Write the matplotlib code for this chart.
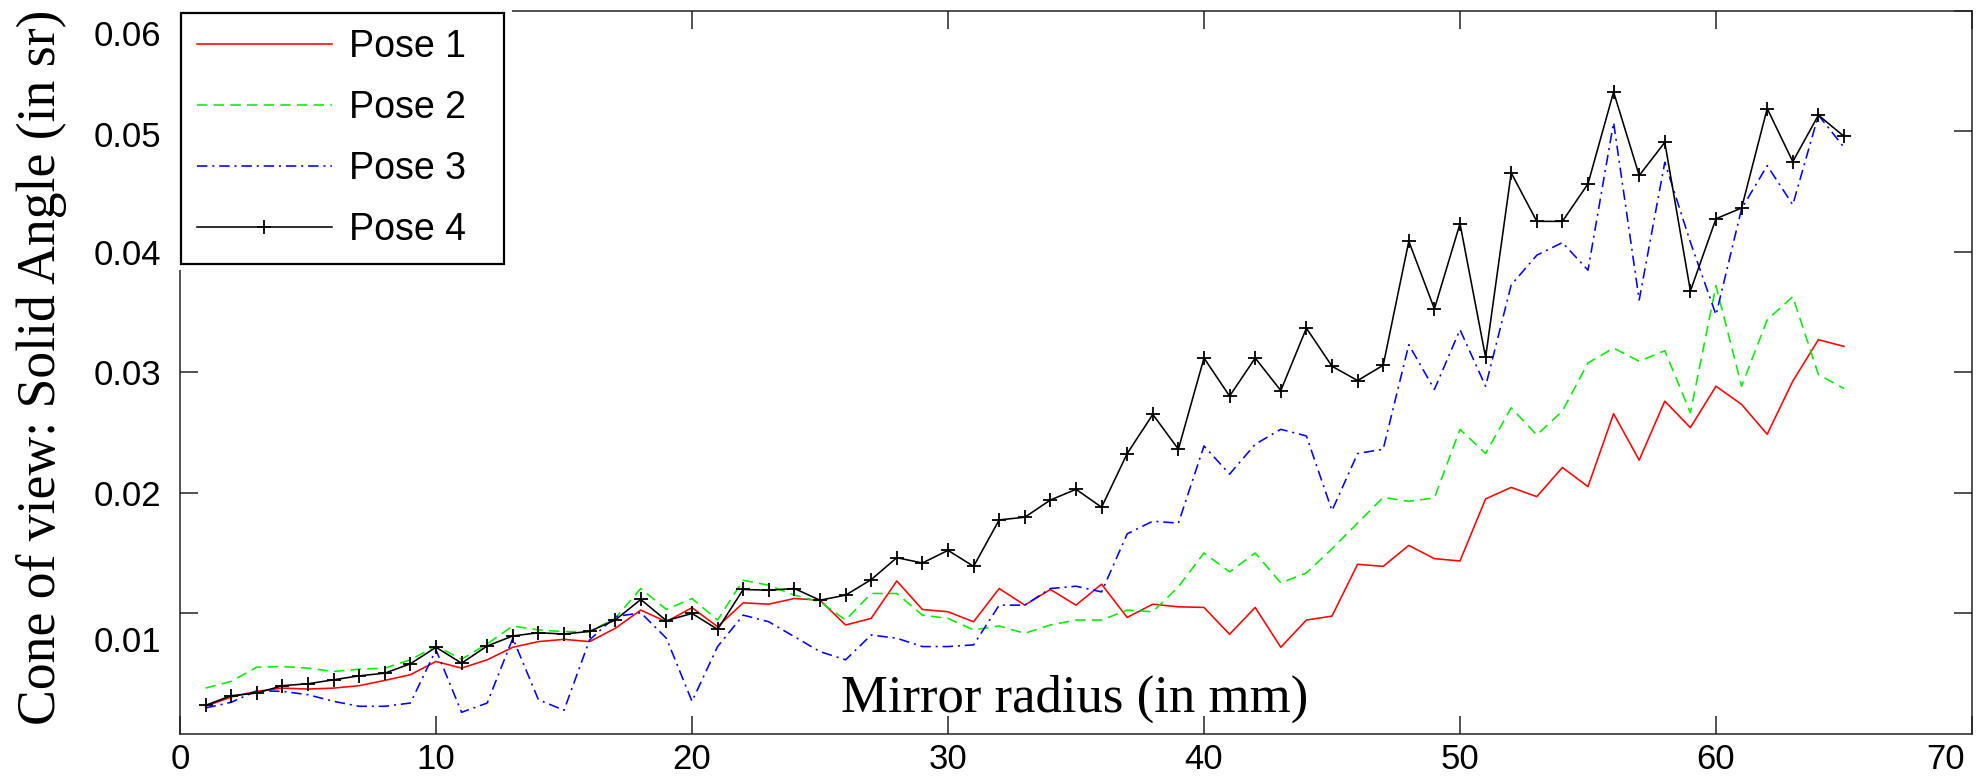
import matplotlib
matplotlib.use("Agg")
import matplotlib.pyplot as plt
import matplotlib.transforms as mtransforms
from matplotlib.patches import Rectangle

# ---------------- data ----------------
mirror_radius = list(range(1, 66))

pose1 = [0.00226, 0.00303, 0.00350, 0.00377, 0.00369, 0.00377, 0.00397, 0.00441, 0.00488, 0.00598,
         0.00543, 0.00612, 0.00716, 0.00763, 0.00782, 0.00763, 0.00873, 0.01025, 0.00928, 0.01045,
         0.00887, 0.01085, 0.01074, 0.01121, 0.01107, 0.00901, 0.00956, 0.01267, 0.01030, 0.01011,
         0.00928, 0.01204, 0.01066, 0.01196, 0.01066, 0.01240, 0.00964, 0.01074, 0.01052, 0.01047,
         0.00824, 0.01047, 0.00716, 0.00942, 0.00975, 0.01405, 0.01388, 0.01562, 0.01452, 0.01433,
         0.01948, 0.02044, 0.01967, 0.02209, 0.02050, 0.02656, 0.02270, 0.02760, 0.02540, 0.02884,
         0.02733, 0.02485, 0.02926, 0.03270, 0.03215]

pose2 = [0.00377, 0.00433, 0.00551, 0.00556, 0.00543, 0.00515, 0.00534, 0.00543, 0.00612, 0.00727,
         0.00617, 0.00744, 0.00893, 0.00860, 0.00846, 0.00846, 0.00956, 0.01204, 0.01030, 0.01121,
         0.00942, 0.01273, 0.01231, 0.01149, 0.01094, 0.00942, 0.01163, 0.01163, 0.00983, 0.00956,
         0.00860, 0.00893, 0.00832, 0.00901, 0.00942, 0.00942, 0.01025, 0.01011, 0.01218, 0.01499,
         0.01342, 0.01499, 0.01251, 0.01333, 0.01534, 0.01747, 0.01961, 0.01928, 0.01956, 0.02526,
         0.02325, 0.02705, 0.02479, 0.02678, 0.03077, 0.03201, 0.03091, 0.03179, 0.02664, 0.03719,
         0.02884, 0.03435, 0.03628, 0.02981, 0.02865]

pose3 = [0.00212, 0.00259, 0.00355, 0.00350, 0.00322, 0.00267, 0.00226, 0.00226, 0.00253, 0.00694,
         0.00176, 0.00253, 0.00791, 0.00281, 0.00193, 0.00777, 0.00970, 0.01003, 0.00791, 0.00267,
         0.00722, 0.00983, 0.00928, 0.00804, 0.00680, 0.00612, 0.00818, 0.00791, 0.00722, 0.00722,
         0.00736, 0.01066, 0.01066, 0.01204, 0.01223, 0.01176, 0.01658, 0.01763, 0.01747, 0.02388,
         0.02154, 0.02402, 0.02526, 0.02471, 0.01851, 0.02325, 0.02361, 0.03229, 0.02857, 0.03353,
         0.02884, 0.03725, 0.03972, 0.04077, 0.03848, 0.05074, 0.03600, 0.04744, 0.04080, 0.03477,
         0.04358, 0.04716, 0.04391, 0.05135, 0.04868]

pose4 = [0.00234, 0.00314, 0.00336, 0.00397, 0.00413, 0.00446, 0.00479, 0.00501, 0.00579, 0.00716,
         0.00584, 0.00727, 0.00810, 0.00837, 0.00826, 0.00848, 0.00942, 0.01113, 0.00937, 0.00997,
         0.00865, 0.01196, 0.01190, 0.01204, 0.01107, 0.01149, 0.01278, 0.01460, 0.01416, 0.01521,
         0.01388, 0.01774, 0.01796, 0.01939, 0.02028, 0.01879, 0.02325, 0.02650, 0.02361, 0.03118,
         0.02802, 0.03118, 0.02848, 0.03366, 0.03050, 0.02931, 0.03058, 0.04088, 0.03526, 0.04234,
         0.03124, 0.04656, 0.04253, 0.04253, 0.04565, 0.05328, 0.04634, 0.04909, 0.03675, 0.04275,
         0.04364, 0.05190, 0.04749, 0.05135, 0.04959]

series_labels = ["Pose 1", "Pose 2", "Pose 3", "Pose 4"]
x_ticks = [0, 10, 20, 30, 40, 50, 60, 70]
x_tick_labels = ["0", "10", "20", "30", "40", "50", "60", "70"]
y_ticks = [0.01, 0.02, 0.03, 0.04, 0.05, 0.06]
y_tick_labels = ["0.01", "0.02", "0.03", "0.04", "0.05", "0.06"]
x_label = "Mirror radius (in mm)"
y_label = "Cone of view: Solid Angle (in sr)"

# ---------------- style / layout ----------------
W, H = 1985, 780
plt.rcParams["lines.scale_dashes"] = False
sans = ["Liberation Sans", "DejaVu Sans"]
serif = ["Liberation Serif", "DejaVu Serif"]

fig = plt.figure(figsize=(W / 100, H / 100), dpi=100)
ax_left, ax_right, ax_top, ax_bottom = 180, 1972, 11, 733.5
ax = fig.add_axes([ax_left / W, 1 - ax_bottom / H, (ax_right - ax_left) / W, (ax_bottom - ax_top) / H])

lw = 1.15
l1, = ax.plot(mirror_radius, pose1, color="#ff0000", lw=lw, ls="-")
l2, = ax.plot(mirror_radius, pose2, color="#00ee00", lw=lw)
l2.set_dashes([7.5, 4.5])
l3, = ax.plot(mirror_radius, pose3, color="#0000ff", lw=lw)
l3.set_dashes([7.5, 3.5, 1.5, 3.5])
l4, = ax.plot(mirror_radius, pose4, color="black", lw=lw, marker="+",
              markersize=10, markeredgewidth=1.3)

ax.set_xlim(0, 70)
ax.set_ylim(0, 0.06)
ax.set_xticks(x_ticks)
ax.set_xticklabels(x_tick_labels, family=sans, fontsize=25)
ax.set_yticks(y_ticks)
ax.set_yticklabels(y_tick_labels, family=sans, fontsize=25)
ax.tick_params(axis="both", direction="in", length=13, width=1.1, color="#222222",
               top=True, right=True)
ax.tick_params(axis="y", pad=13.5)
ax.tick_params(axis="x", pad=7)
for sp in ax.spines.values():
    sp.set_linewidth(1.1)
    sp.set_color("#222222")

# label offsets (pixels) reproducing the reference's shifted tick labels
y_shift_px = {"0.01": 26, "0.06": 22, "0.05": 3}
for lab in ax.get_yticklabels():
    d = y_shift_px.get(lab.get_text(), 0)
    if d:
        lab.set_transform(lab.get_transform() +
                          mtransforms.ScaledTranslation(0, -d / 100, fig.dpi_scale_trans))
for lab in ax.get_xticklabels():
    if lab.get_text() == "70":
        lab.set_transform(lab.get_transform() +
                          mtransforms.ScaledTranslation(-26 / 100, 0, fig.dpi_scale_trans))

# axis labels
ax.set_xlabel(x_label, family=serif, fontsize=38)
ax.xaxis.label.set_va("baseline")
ax.xaxis.set_label_coords(0.499, (ax_bottom - 712) / (ax_bottom - ax_top))
ax.set_ylabel(y_label, family=serif, fontsize=38.6)
ax.yaxis.label.set_va("baseline")
ax.yaxis.set_label_coords((55 - ax_left) / (ax_right - ax_left), 0.507)

# white margin around the legend (hides spine pieces as in the reference)
ax.add_patch(Rectangle((168 / W, 1 - 270 / H), (512 - 168) / W, 270 / H,
                       transform=fig.transFigure, facecolor="white", edgecolor="none",
                       clip_on=False, zorder=4.5))

leg_x0, leg_x1, leg_y0, leg_y1 = 181, 504, 13, 263
leg = ax.legend([l1, l2, l3, l4], series_labels, loc="upper left", mode="expand",
                bbox_to_anchor=(leg_x0 / W, 1 - leg_y1 / H, (leg_x1 - leg_x0) / W, (leg_y1 - leg_y0) / H),
                bbox_transform=fig.transFigure,
                borderaxespad=0, prop={"family": sans, "size": 27},
                handlelength=3.6, handletextpad=0.45, borderpad=0.42, labelspacing=0.67,
                numpoints=1, fancybox=False, framealpha=1, edgecolor="black")
leg.get_frame().set_linewidth(1.6)
leg.set_zorder(6)

fig.savefig("out.png", dpi=100)
